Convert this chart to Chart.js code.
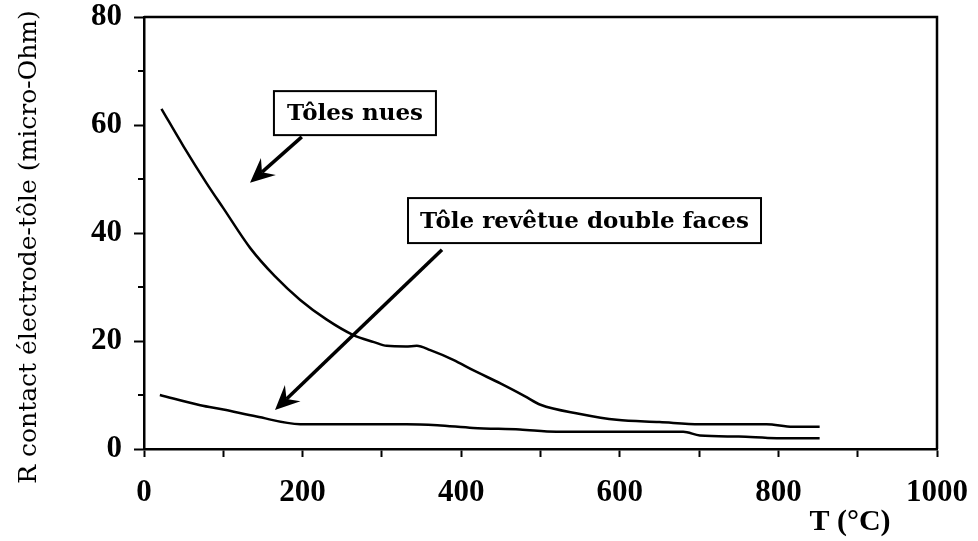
<!DOCTYPE html>
<html>
<head>
<meta charset="utf-8">
<script src="https://cdn.jsdelivr.net/npm/chart.js@4.4.1/dist/chart.umd.min.js"></script>
<style>
  html, body { margin: 0; padding: 0; background: #fff; }
  canvas { display: block; }
</style>
</head>
<body>
<canvas id="myChart" width="978" height="541"></canvas>
<script>
// Tôles nues (bare sheets)
var nuesT = [22, 50, 79, 100, 134, 165, 197, 230, 264, 290, 306, 330, 344, 361, 390, 415, 450, 480, 500, 550, 596, 650, 701, 750, 785, 818, 852];
var nuesR = [63, 56, 49.2, 44.6, 37.2, 32, 27.6, 24, 21.1, 19.8, 19.1, 19.0, 19.1, 18.3, 16.5, 14.6, 12.1, 9.8, 8.2, 6.5, 5.4, 5.0, 4.6, 4.6, 4.6, 4.1, 4.1];

// Tôle revêtue double faces (coated sheet)
var revT = [20, 71, 100, 142, 197, 250, 331, 370, 415, 474, 520, 600, 680, 701, 750, 798, 852];
var revR = [10, 8.1, 7.3, 6.0, 4.6, 4.6, 4.6, 4.4, 3.9, 3.6, 3.2, 3.2, 3.2, 2.5, 2.3, 2.0, 2.0];

var xTickLabels = [0, 200, 400, 600, 800, 1000];
var yTickLabels = [0, 20, 40, 60, 80];

function toPoints(xs, ys) {
    return xs.map(function(x, i) { return {x: x, y: ys[i]}; });
}

// callout boxes and arrows, in data units
var callouts = [
    {text: 'Tôles nues', cx: 266, cy: 62.2, w: 162, h: 44, from: [199, 57.8], to: [133.7, 49.3]},
    {text: 'Tôle revêtue double faces', cx: 555.5, cy: 42.3, w: 353, h: 45, from: [375.8, 36.9], to: [165.2, 7.2]}
];

function drawArrow(c, x1, y1, x2, y2) {
    var ang = Math.atan2(y2 - y1, x2 - x1);
    var len = 27, spread = 0.43, back = 16;
    c.lineWidth = 3.5;
    c.beginPath();
    c.moveTo(x1, y1);
    c.lineTo(x2 - Math.cos(ang) * back, y2 - Math.sin(ang) * back);
    c.stroke();
    c.beginPath();
    c.moveTo(x2, y2);
    c.lineTo(x2 - len * Math.cos(ang - spread), y2 - len * Math.sin(ang - spread));
    c.lineTo(x2 - back * Math.cos(ang), y2 - back * Math.sin(ang));
    c.lineTo(x2 - len * Math.cos(ang + spread), y2 - len * Math.sin(ang + spread));
    c.closePath();
    c.fill();
}

var decorations = {
    id: 'decorations',
    afterDatasetsDraw: function(chart) {
        var c = chart.ctx, a = chart.chartArea;
        var xs = chart.scales.x, ys = chart.scales.y;
        c.save();
        c.strokeStyle = '#000';
        c.fillStyle = '#000';

        // frame: top and right sides
        c.lineWidth = 2.5;
        c.beginPath();
        c.moveTo(a.left, a.top);
        c.lineTo(a.right, a.top);
        c.lineTo(a.right, a.bottom);
        c.stroke();

        // minor y ticks
        c.lineWidth = 2;
        ys.ticks.forEach(function(t) {
            if (yTickLabels.indexOf(t.value) === -1) {
                var py = ys.getPixelForValue(t.value);
                c.beginPath();
                c.moveTo(a.left - 6, py);
                c.lineTo(a.left, py);
                c.stroke();
            }
        });

        // callouts
        c.font = 'bold 23px "DejaVu Serif"';
        c.textAlign = 'center';
        c.textBaseline = 'middle';
        callouts.forEach(function(o) {
            var px = xs.getPixelForValue(o.cx), py = ys.getPixelForValue(o.cy);
            c.lineWidth = 2;
            c.fillStyle = '#fff';
            c.fillRect(px - o.w / 2, py - o.h / 2, o.w, o.h);
            c.strokeRect(px - o.w / 2, py - o.h / 2, o.w, o.h);
            c.fillStyle = '#000';
            c.fillText(o.text, px, py + 1);
            drawArrow(c, xs.getPixelForValue(o.from[0]), ys.getPixelForValue(o.from[1]),
                         xs.getPixelForValue(o.to[0]), ys.getPixelForValue(o.to[1]));
        });

        // axis titles
        c.font = 'bold 30px "Liberation Serif"';
        c.textAlign = 'center';
        c.textBaseline = 'alphabetic';
        c.fillText('T (°C)', 850, 530);

        c.translate(29, 247);
        c.rotate(-Math.PI / 2);
        c.font = '25px "DejaVu Serif"';
        c.textBaseline = 'middle';
        c.fillText('R contact électrode-tôle (micro-Ohm)', 0, 0);
        c.restore();
    }
};

var ctx = document.getElementById('myChart').getContext('2d');
var myChart = new Chart(ctx, {
    type: 'line',
    data: {
        datasets: [{
            label: 'Tôles nues',
            data: toPoints(nuesT, nuesR),
            borderColor: '#000',
            borderWidth: 2.5,
            pointRadius: 0,
            cubicInterpolationMode: 'monotone'
        }, {
            label: 'Tôle revêtue double faces',
            data: toPoints(revT, revR),
            borderColor: '#000',
            borderWidth: 2.5,
            pointRadius: 0,
            cubicInterpolationMode: 'monotone'
        }]
    },
    options: {
        responsive: false,
        animation: false,
        devicePixelRatio: 1,
        layout: {
            padding: {left: 0, top: 17, right: 41, bottom: 0}
        },
        plugins: {
            legend: {display: false},
            tooltip: {enabled: false}
        },
        scales: {
            x: {
                type: 'linear',
                min: 0,
                max: 1000,
                afterFit: function(scale) {
                    scale.height = 92;
                    scale.paddingLeft = 0;
                    scale.paddingRight = 0;
                },
                border: {display: true, color: '#000', width: 2.5},
                grid: {drawOnChartArea: false, tickLength: 8, tickColor: '#000', tickWidth: 2},
                ticks: {
                    stepSize: 100,
                    color: '#000',
                    padding: 17,
                    maxRotation: 0,
                    autoSkip: false,
                    font: {family: 'Liberation Serif', weight: 'bold', size: 31},
                    callback: function(value) {
                        return xTickLabels.indexOf(value) !== -1 ? value : '';
                    }
                }
            },
            y: {
                min: 0,
                max: 80,
                afterFit: function(scale) {
                    scale.width = 144;
                    scale.paddingTop = 0;
                    scale.paddingBottom = 0;
                },
                border: {display: true, color: '#000', width: 2.5},
                grid: {
                    drawOnChartArea: false,
                    tickLength: 10,
                    tickWidth: 2,
                    tickColor: function(c) {
                        return yTickLabels.indexOf(c.tick.value) !== -1 ? '#000' : 'rgba(0,0,0,0)';
                    }
                },
                ticks: {
                    stepSize: 10,
                    color: '#000',
                    padding: 12,
                    autoSkip: false,
                    font: {family: 'Liberation Serif', weight: 'bold', size: 31},
                    callback: function(value) {
                        return yTickLabels.indexOf(value) !== -1 ? value : '';
                    }
                }
            }
        }
    },
    plugins: [decorations]
});
</script>
</body>
</html>
